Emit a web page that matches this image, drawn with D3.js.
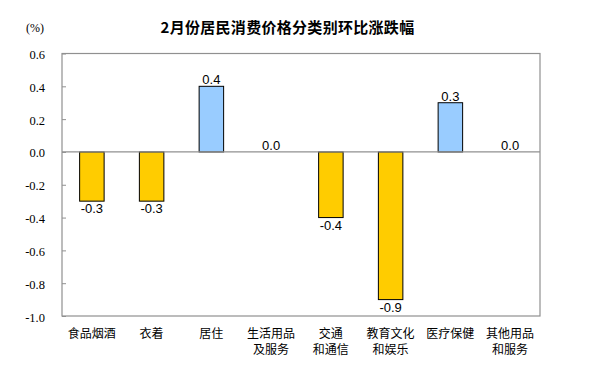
<!DOCTYPE html>
<html>
<head>
<meta charset="utf-8">
<script src="https://cdn.jsdelivr.net/npm/d3@7"></script>
<style>
html,body{margin:0;padding:0;background:#fff;}
svg{display:block;}
</style>
</head>
<body>
<svg id="chart" width="610" height="378"></svg>
<script>
const categories = [["食品烟酒"],["衣着"],["居住"],["生活用品","及服务"],["交通","和通信"],["教育文化","和娱乐"],["医疗保健"],["其他用品","和服务"]];
const values = [-0.3,-0.3,0.4,0.0,-0.4,-0.9,0.3,0.0];
const yTicks = [0.6,0.4,0.2,0.0,-0.2,-0.4,-0.6,-0.8,-1.0];
const title = "2月份居民消费价格分类别环比涨跌幅";
const unitLabel = "(%)";

const svg = d3.select("#chart");
const L = 62, R = 540, T = 53.5, B = 316;
const gray = "#909090";
const x = d3.scaleBand().domain(d3.range(categories.length)).range([L, R]).padding(0);
const y = d3.scaleLinear().domain([-1.0, 0.6]).range([B, T]);
const bw = x.bandwidth() * 0.41;

// title
svg.append("text").attr("x", 287.5).attr("y", 33)
  .attr("text-anchor", "middle")
  .style("font-family", "'Noto Sans CJK SC', sans-serif")
  .style("font-size", "15px").style("font-weight", "bold")
  .style("letter-spacing", "0.3px")
  .text(title);

svg.append("text").attr("x", 35).attr("y", 31.5)
  .attr("text-anchor", "middle")
  .style("font-family", "'Liberation Serif', serif")
  .style("font-size", "12px")
  .text(unitLabel);

// frame
svg.append("rect").attr("x", L).attr("y", T).attr("width", R - L).attr("height", B - T)
  .attr("fill", "none").attr("stroke", gray).attr("stroke-width", 1.2);

// y axis
const yAxis = d3.axisLeft(y).tickValues(yTicks).tickFormat(d3.format(".1f")).tickSize(-4).tickPadding(17);
const gy = svg.append("g").attr("transform", `translate(${L},0)`).call(yAxis);
gy.select(".domain").remove();
gy.selectAll(".tick line").attr("stroke", gray);
gy.selectAll(".tick text")
  .style("font-family", "'Liberation Serif', serif")
  .style("font-size", "12.5px").attr("fill", "#000").attr("dy", "0.4em")
  .text(d => d3.format(".1f")(d).replace("−", "-"));

// bars
svg.append("g").selectAll("rect").data(values).join("rect")
  .attr("x", (d, i) => x(i) + (x.bandwidth() - bw) / 2)
  .attr("y", d => y(Math.max(0, d)))
  .attr("width", bw)
  .attr("height", d => Math.abs(y(d) - y(0)))
  .attr("fill", d => d > 0 ? "#99CCFF" : "#FFCC00")
  .attr("stroke", "#000").attr("stroke-width", 1)
  .style("display", d => d === 0 ? "none" : null);

// zero line
svg.append("line").attr("x1", L).attr("x2", R).attr("y1", y(0)).attr("y2", y(0))
  .attr("stroke", gray).attr("stroke-width", 1.2);

// value labels
svg.append("g").selectAll("text").data(values).join("text")
  .attr("x", (d, i) => x(i) + x.bandwidth() / 2)
  .attr("y", d => d < 0 ? y(d) + 12 : y(d) - 2)
  .attr("text-anchor", "middle")
  .style("font-family", "'Liberation Sans', Arial, sans-serif")
  .style("font-size", "13px")
  .text(d => d.toFixed(1));

// category labels
const cg = svg.append("g").selectAll("text").data(categories).join("text")
  .attr("text-anchor", "middle")
  .style("font-family", "'Noto Sans CJK SC', sans-serif")
  .style("font-size", "12px");
cg.each(function(lines, i) {
  const t = d3.select(this);
  lines.forEach((ln, j) => {
    t.append("tspan").attr("x", x(i) + x.bandwidth() / 2).attr("y", 338 + j * 15.5).text(ln);
  });
});
</script>
</body>
</html>
